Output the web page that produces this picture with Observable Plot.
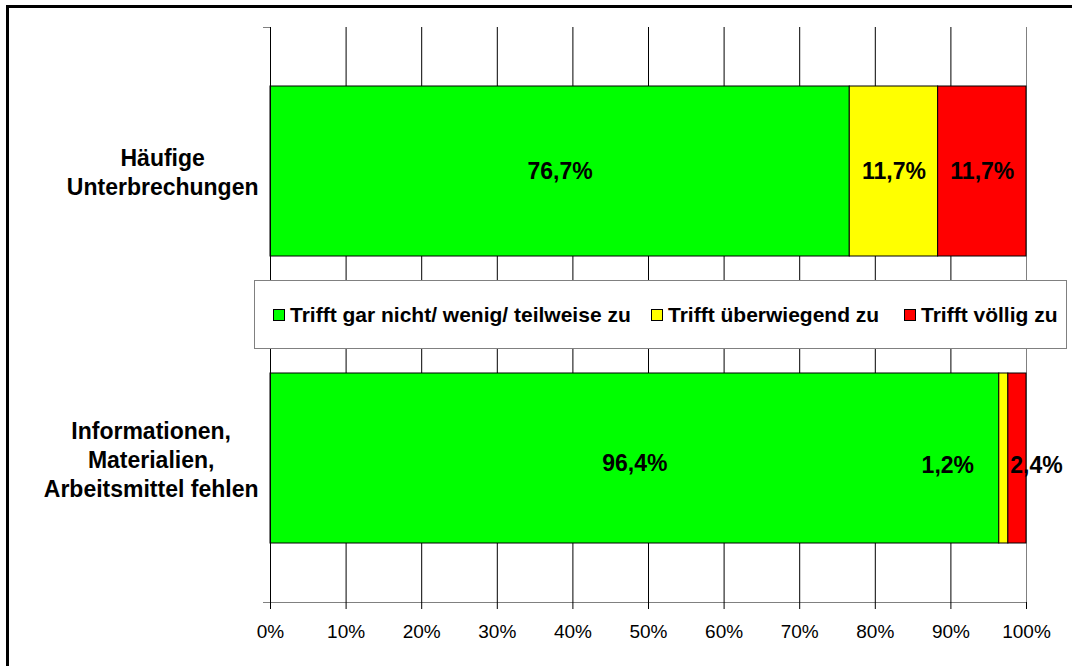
<!DOCTYPE html>
<html>
<head>
<meta charset="utf-8">
<script src="https://cdn.jsdelivr.net/npm/d3@7"></script>
<script src="https://cdn.jsdelivr.net/npm/@observablehq/plot@0.6"></script>
<style>
  html, body { margin: 0; padding: 0; background: #fff; overflow: hidden; }
  body { width: 1072px; height: 666px; position: relative; font-family: "Liberation Sans", Arial, sans-serif; }
  #frame { position: absolute; left: 6px; top: 5px; width: 1200px; height: 800px; border: 3px solid #000; box-sizing: border-box; pointer-events: none; }
  #chart { position: absolute; left: 0; top: 0; }
  #legend { position: absolute; left: 254px; top: 280px; width: 813px; height: 69px; box-sizing: border-box;
            border: 1px solid #808080; background: #fff; font-weight: bold; font-size: 21px; color: #000; }
  .item { position: absolute; top: 0; height: 100%; display: flex; align-items: center; white-space: nowrap; }
  .sw { width: 12px; height: 12px; border: 1px solid #000; box-sizing: border-box; margin-right: 5px; }
</style>
</head>
<body>
<div id="chart"></div>
<div id="legend"></div>
<div id="frame"></div>
<script>
// ---- data ----
const categories = ["Häufige Unterbrechungen", "Informationen, Materialien, Arbeitsmittel fehlen"];
const categoryLines = [["Häufige", "Unterbrechungen"], ["Informationen,", "Materialien,", "Arbeitsmittel fehlen"]];
const series = ["Trifft gar nicht/ wenig/ teilweise zu", "Trifft überwiegend zu", "Trifft völlig zu"];
const seriesColors = ["#00ff00", "#ffff00", "#ff0000"];
const valuesLow = [76.7, 96.4];
const valuesMid = [11.7, 1.2];
const valuesHigh = [11.7, 2.4];
const xTicks = [0, 10, 20, 30, 40, 50, 60, 70, 80, 90, 100];

const seriesValues = [valuesLow, valuesMid, valuesHigh];
const rows = [];
categories.forEach((c, ci) => {
  series.forEach((s, si) => {
    rows.push({category: c, ci, series: s, si, value: seriesValues[si][ci]});
  });
});
const fmt = v => String(v.toFixed(1)).replace(".", ",") + "%";
const FONT = "'Liberation Sans', Arial, sans-serif";

// measure label widths
const ctx = document.createElement("canvas").getContext("2d");
ctx.font = "bold 23px 'Liberation Sans'";
const maxW = categoryLines.map(lines => Math.max(...lines.map(l => ctx.measureText(l).width)));

function valueLabels(filterFn, dx, dy) {
  return Plot.text(rows, Plot.stackX({
    x: "value", y: "category", z: "series", offset: "normalize",
    text: d => filterFn(d) ? fmt(d.value) : null,
    dx, dy, fontSize: 23, fontWeight: "bold", fill: "#000"
  }));
}

const axisLines = (index, scales, values, dim) => {
  const top = dim.marginTop, bottom = dim.height - dim.marginBottom;
  const x0 = dim.marginLeft, x1 = dim.width - dim.marginRight;
  const mid = (top + bottom) / 2;
  const g = d3.create("svg:g");
  g.append("path").attr("d", `M${x0 + 0.5},${top}V${bottom}`).attr("stroke", "#000").attr("fill", "none");
  g.append("path").attr("d", `M${x0 - 7},${top + 0.5}H${x0}M${x0 - 7},${mid + 0.5}H${x0}`).attr("stroke", "#808080").attr("fill", "none");
  g.append("path").attr("d", `M${x0 - 7},${bottom + 0.5}H${x1 + 0.5}`).attr("stroke", "#808080").attr("fill", "none");
  return g.node();
};

const p = 0.4087;
const chart = Plot.plot({
  width: 1072, height: 666,
  marginLeft: 270, marginRight: 46, marginTop: 27, marginBottom: 64,
  style: {fontFamily: FONT, background: "transparent", overflow: "visible", color: "#000"},
  x: {domain: [0, 1], axis: null, label: null},
  y: {domain: categories, paddingInner: p, paddingOuter: p / 2, axis: null, label: null},
  color: {domain: series, range: seriesColors},
  marks: [
    Plot.ruleX(xTicks.filter(t => t < 100).map(t => t / 100), {x: d => d, stroke: "#000", strokeWidth: 1}),
    Plot.ruleX(xTicks.filter(t => t === 100).map(t => t / 100), {x: d => d, stroke: "#808080", strokeWidth: 1}),
    Plot.barX(rows, Plot.stackX({x: "value", y: "category", fill: "series", offset: "normalize", stroke: "#000", strokeWidth: 1})),
    axisLines,
    Plot.axisX({ticks: xTicks.map(t => t / 100), tickFormat: d => Math.round(d * 100) + "%", tickSize: 7, tickPadding: 15, fontSize: 19, stroke: "#000", label: null}),
    valueLabels(d => d.ci === 0, 0, 0),
    valueLabels(d => d.ci === 1 && d.si === 0, 0, 5),
    valueLabels(d => d.ci === 1 && d.si === 1, -56, 7),
    valueLabels(d => d.ci === 1 && d.si === 2, 19, 7),
    ...categories.map((c, i) => Plot.text([c], {
      y: d => d, text: () => categoryLines[i].join("\n"),
      frameAnchor: "left", dx: -(12 + maxW[i] / 2), textAnchor: "middle",
      fontSize: 23, fontWeight: "bold", lineHeight: 1.26, fill: "#000"
    }))
  ]
});
document.getElementById("chart").appendChild(chart);

// legend
const legend = document.getElementById("legend");
const itemLeft = [18, 396, 649];
series.forEach((s, i) => {
  const it = document.createElement("div");
  it.className = "item";
  it.style.left = itemLeft[i] + "px";
  const sw = document.createElement("div");
  sw.className = "sw";
  sw.style.background = seriesColors[i];
  const tx = document.createElement("span");
  tx.textContent = s;
  it.appendChild(sw); it.appendChild(tx);
  legend.appendChild(it);
});
</script>
</body>
</html>
